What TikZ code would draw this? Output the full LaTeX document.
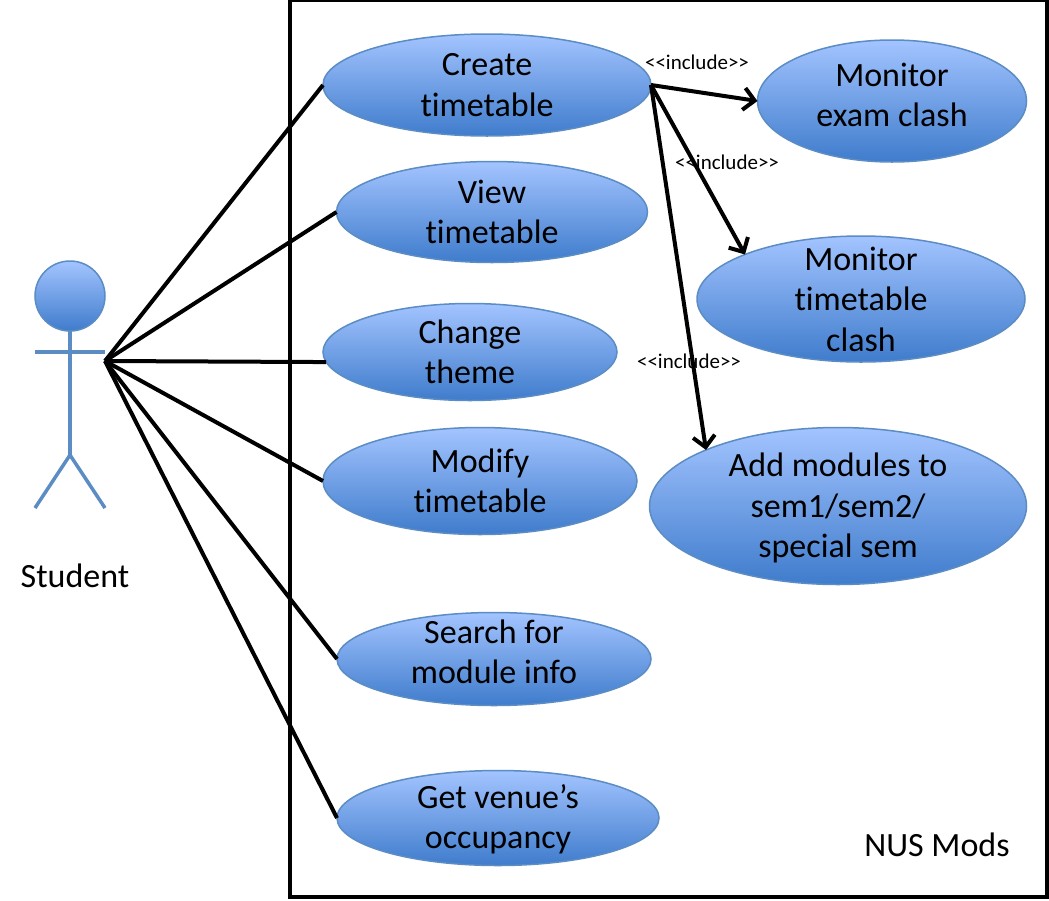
\documentclass[tikz,border=0pt]{standalone}
\usepackage{fontspec}
\setmainfont[Ligatures=NoCommon]{Carlito}
\usetikzlibrary{shapes.geometric, arrows.meta}
\definecolor{ucLight}{HTML}{A3C4FF}
\definecolor{ucDark}{HTML}{3F7CCC}
\definecolor{ucEdge}{HTML}{5B8CC4}
\newcommand{\liftText}[2]{\raisebox{\dimexpr#1-8.5pt}[0pt][0pt]{\begin{tabular}{@{}c@{}}#2\end{tabular}}}
\begin{document}
\begin{tikzpicture}[
    x=1pt, y=-1pt,
    usecase/.style={ellipse, draw=ucEdge, line width=1.5pt, top color=ucLight, bottom color=ucDark, align=center, inner sep=-30pt, outer sep=0pt, font=\fontsize{34}{40.5}\selectfont},
    sysbox/.style={draw=black, line width=3.5pt, rectangle, fill=white, inner sep=0pt, outer sep=0pt},
    caption/.style={font=\fontsize{34}{40}\selectfont, inner sep=0pt},
    stereo/.style={font=\fontsize{21}{25}\selectfont, inner sep=0pt},
    actorHead/.style={circle, draw=ucEdge, line width=1.5pt, top color=ucLight, bottom color=ucDark, inner sep=0pt, outer sep=0pt, minimum size=70pt},
    actorLine/.style={draw=ucEdge, line width=3.5pt},
    assoc/.style={draw=black, line width=4pt},
    incl/.style={draw=black, line width=4pt, -{Straight Barb[length=11pt, width=22pt]}},
]
\useasboundingbox (0,0) rectangle (1049,900);
\node[sysbox, minimum width=757pt, minimum height=897pt, anchor=north west] (nusmods) at (290,0) {};
% use cases
\node[usecase, minimum width=328pt, minimum height=102pt] (create) at (487,85) {Create\\timetable};
\node[usecase, minimum width=311pt, minimum height=101pt] (view) at (492,212) {View\\timetable};
\node[usecase, minimum width=294pt, minimum height=97pt] (theme) at (470,352) {Change\\theme};
\node[usecase, minimum width=314pt, minimum height=107pt] (modify) at (480,481) {Modify\\timetable};
\node[usecase, minimum width=314pt, minimum height=93pt] (search) at (494,659) {\liftText{6pt}{Search for\\module info}};
\node[usecase, minimum width=322pt, minimum height=95pt] (venue) at (498,818) {\liftText{0pt}{Get venue’s\\occupancy}};
\node[usecase, minimum width=269pt, minimum height=122pt] (exam) at (892,101) {\liftText{5pt}{Monitor\\exam clash}};
\node[usecase, minimum width=328pt, minimum height=126pt] (clash) at (861,299) {Monitor\\timetable\\clash};
\node[usecase, minimum width=377pt, minimum height=157pt] (addmod) at (838,506) {\liftText{-1pt}{Add modules to\\sem1/sem2/\\special sem}};
% actor
\node[actorHead] (head) at (70,296) {};
\coordinate (neck) at (70,455);
\coordinate (armL) at (35,352);
\coordinate (armR) at (105,352);
\coordinate (footL) at (35,508);
\coordinate (footR) at (105,508);
\coordinate (hub) at (105,361);
\draw[actorLine] (head.south) -- (neck);
\draw[actorLine] (armL) -- (armR);
\draw[actorLine] (footL) -- (neck) -- (footR);
\node[caption] (student) at (75,576) {Student};
\node[caption] (sysname) at (937,845) {NUS Mods};
% associations
\draw[assoc] (hub) -- (create.west);
\draw[assoc] (hub) -- (view.west);
\draw[assoc] (hub) -- (theme.184);
\draw[assoc] (hub) -- (modify.west);
\draw[assoc] (hub) -- (search.west);
\draw[assoc] (hub) -- (venue.west);
% includes
\draw[incl] (create.east) -- (exam.west);
\draw[incl] (create.east) -- (clash.159);
\draw[incl] (create.east) -- (addmod.157);
\node[stereo] (inclA) at (697,62) {<\kern0pt<include>\kern0pt>};
\node[stereo] (inclB) at (727,162) {<\kern0pt<include>\kern0pt>};
\node[stereo] (inclC) at (689,361) {<\kern0pt<include>\kern0pt>};
\end{tikzpicture}
\end{document}
